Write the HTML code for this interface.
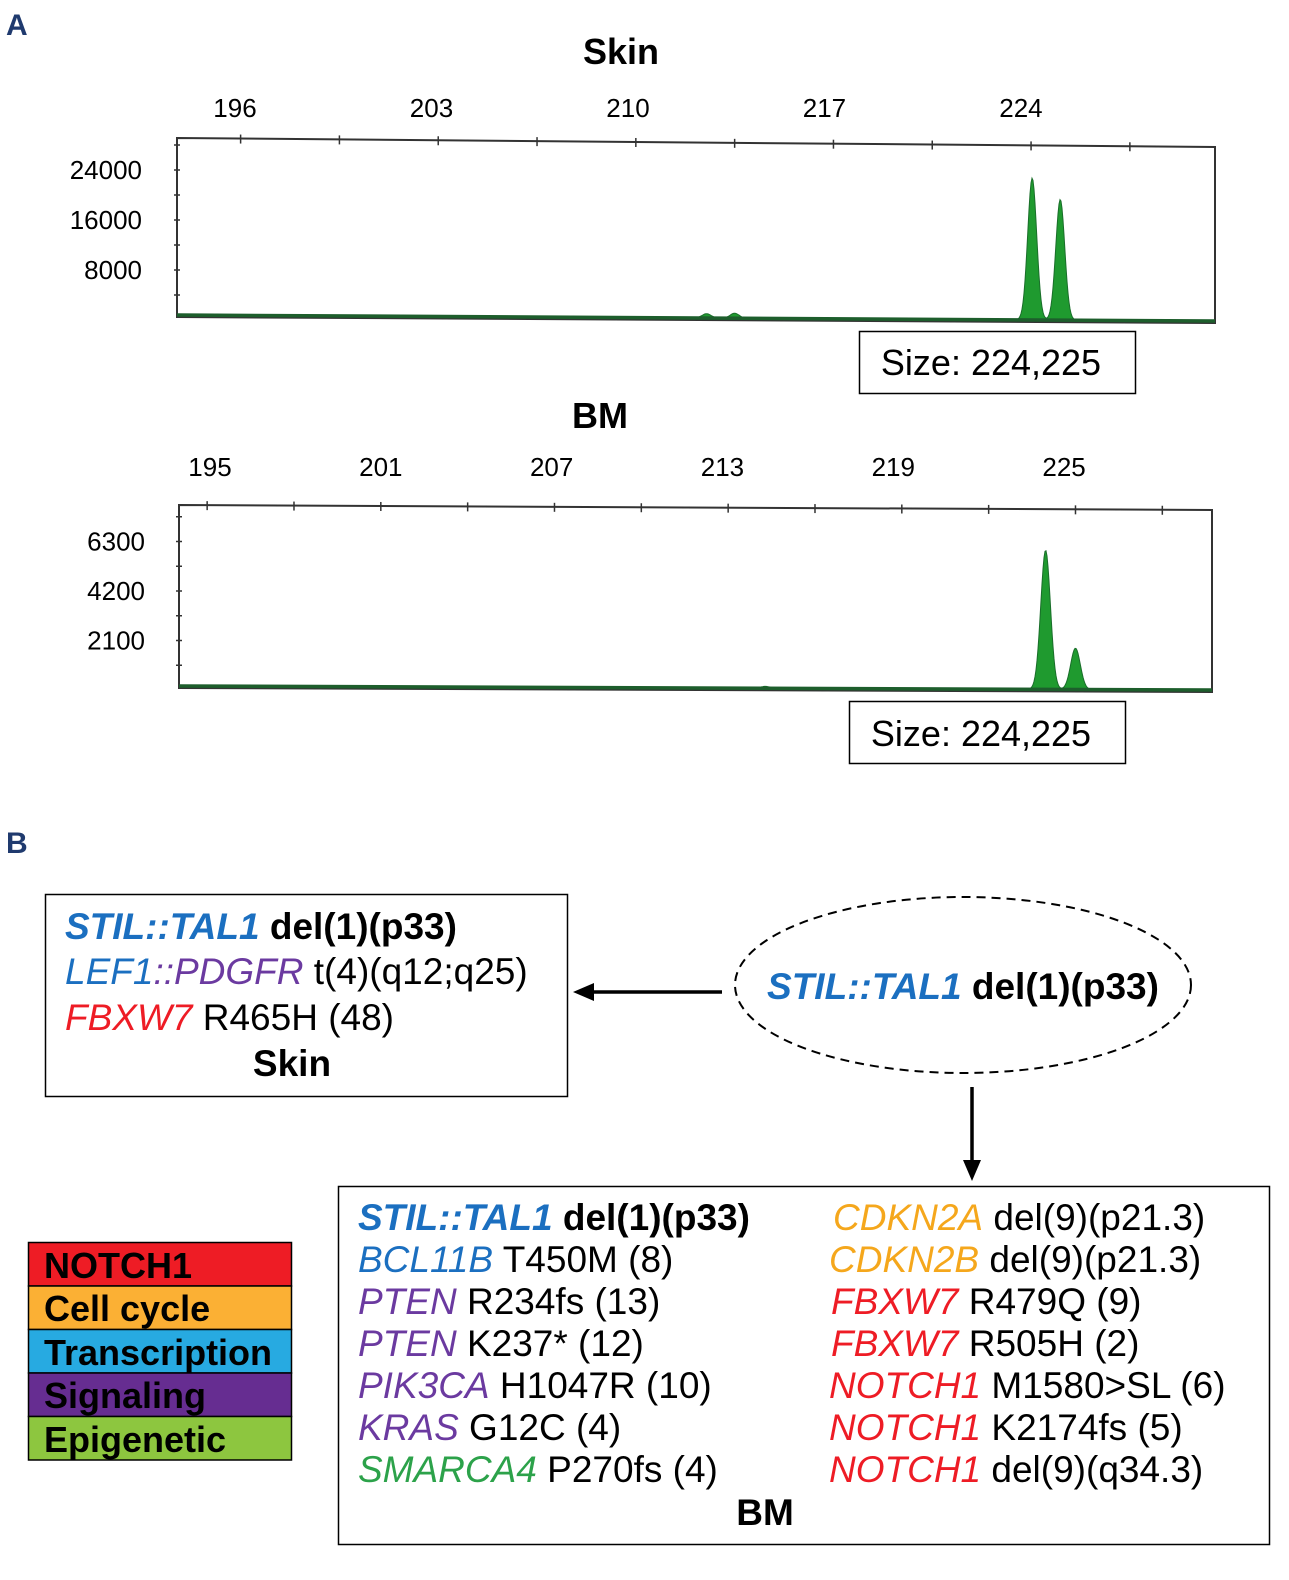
<!DOCTYPE html>
<html><head><meta charset="utf-8"><style>
html,body{margin:0;padding:0;background:#fff;}
svg{display:block;font-family:"Liberation Sans",Arial,sans-serif;}
.b{font-weight:bold}
.bl{fill:#1b6fc0;font-style:italic}
.pu{fill:#6b3aa0;font-style:italic}
.rd{fill:#ee1c25;font-style:italic}
.or{fill:#f5a71c;font-style:italic}
.gr{fill:#2ca24a;font-style:italic}
</style></head><body>
<svg id="fig" width="1289" height="1580" viewBox="0 0 1289 1580">
<text x="6" y="35" font-size="30" class="b" fill="#1f3a6e">A</text>
<text x="6" y="853" font-size="30" class="b" fill="#1f3a6e">B</text>

<g id="skin">
<text x="621" y="64" font-size="36" class="b" text-anchor="middle">Skin</text>
</g>
<g id="bm">
<text x="600" y="428" font-size="36" class="b" text-anchor="middle">BM</text>
</g>

<g>
<rect x="859.5" y="331.5" width="276" height="62" fill="#fff" stroke="#000" stroke-width="1.5"/>
<text x="991" y="375" font-size="36" text-anchor="middle">Size: 224,225</text>
</g>
<g>
<rect x="849.5" y="701.5" width="276" height="62" fill="#fff" stroke="#000" stroke-width="1.5"/>
<text x="981" y="746" font-size="36" text-anchor="middle">Size: 224,225</text>
</g>

<g>
<rect x="45.5" y="894.5" width="522" height="202" fill="none" stroke="#000" stroke-width="1.5"/>
<text x="65" y="939" font-size="37" class="b"><tspan class="bl">STIL::TAL1</tspan> del(1)(p33)</text>
<text x="65" y="984" font-size="37"><tspan class="bl">LEF1</tspan><tspan class="pu">::PDGFR</tspan> t(4)(q12;q25)</text>
<text x="65" y="1030" font-size="37"><tspan class="rd">FBXW7</tspan> R465H (48)</text>
<text x="292" y="1076" font-size="37" class="b" text-anchor="middle">Skin</text>
</g>

<g>
<ellipse cx="963" cy="985" rx="228" ry="88" fill="none" stroke="#000" stroke-width="2" stroke-dasharray="9,6"/>
<text x="963" y="999" font-size="37" class="b" text-anchor="middle"><tspan class="bl">STIL::TAL1</tspan> del(1)(p33)</text>
</g>
<g>
<line x1="722" y1="992" x2="590" y2="992" stroke="#000" stroke-width="3.5"/>
<polygon points="573,992 594,983 594,1001" fill="#000"/>
</g>
<g>
<line x1="972" y1="1087" x2="972" y2="1164" stroke="#000" stroke-width="3.5"/>
<polygon points="972,1181 963,1160 981,1160" fill="#000"/>
</g>

<g>
<rect x="338.5" y="1186.5" width="931" height="358" fill="none" stroke="#000" stroke-width="1.5"/>
<text x="358" y="1230" font-size="37" class="b"><tspan class="bl">STIL::TAL1</tspan> del(1)(p33)</text>
<text x="358" y="1272" font-size="37"><tspan class="bl">BCL11B</tspan> T450M (8)</text>
<text x="358" y="1314" font-size="37"><tspan class="pu">PTEN</tspan> R234fs (13)</text>
<text x="358" y="1356" font-size="37"><tspan class="pu">PTEN</tspan> K237* (12)</text>
<text x="358" y="1398" font-size="37"><tspan class="pu">PIK3CA</tspan> H1047R (10)</text>
<text x="358" y="1440" font-size="37"><tspan class="pu">KRAS</tspan> G12C (4)</text>
<text x="358" y="1482" font-size="37"><tspan class="gr">SMARCA4</tspan> P270fs (4)</text>
<text x="833" y="1230" font-size="37"><tspan class="or">CDKN2A</tspan> del(9)(p21.3)</text>
<text x="829" y="1272" font-size="37"><tspan class="or">CDKN2B</tspan> del(9)(p21.3)</text>
<text x="831" y="1314" font-size="37"><tspan class="rd">FBXW7</tspan> R479Q (9)</text>
<text x="831" y="1356" font-size="37"><tspan class="rd">FBXW7</tspan> R505H (2)</text>
<text x="829" y="1398" font-size="37"><tspan class="rd">NOTCH1</tspan> M1580&gt;SL (6)</text>
<text x="829" y="1440" font-size="37"><tspan class="rd">NOTCH1</tspan> K2174fs (5)</text>
<text x="829" y="1482" font-size="37"><tspan class="rd">NOTCH1</tspan> del(9)(q34.3)</text>
<text x="765" y="1525" font-size="37" class="b" text-anchor="middle">BM</text>
</g>

<g>
<g><rect x="28.5" y="1242.5" width="263" height="43.5" fill="#ee1c25" stroke="#000" stroke-width="1.5"/><text x="44" y="1278" font-size="36" class="b">NOTCH1</text></g>
<g><rect x="28.5" y="1286" width="263" height="43.5" fill="#fbb034" stroke="#000" stroke-width="1.5"/><text x="44" y="1321" font-size="36" class="b">Cell cycle</text></g>
<g><rect x="28.5" y="1329.5" width="263" height="43.5" fill="#27aae1" stroke="#000" stroke-width="1.5"/><text x="44" y="1365" font-size="36" class="b">Transcription</text></g>
<g><rect x="28.5" y="1373" width="263" height="43.5" fill="#662d91" stroke="#000" stroke-width="1.5"/><text x="44" y="1408" font-size="36" class="b">Signaling</text></g>
<g><rect x="28.5" y="1416.5" width="263" height="43.5" fill="#8dc63f" stroke="#000" stroke-width="1.5"/><text x="44" y="1452" font-size="36" class="b">Epigenetic</text></g>
</g>
</svg>
<script>
// Skin chart data
const skinXTicks = [196, 203, 210, 217, 224];
const skinYTicks = [8000, 16000, 24000];
const skinPeakPos = [212.8, 213.8, 224.4, 225.4];
const skinPeakHeight = [700, 800, 22700, 19300];
// BM chart data
const bmXTicks = [195, 201, 207, 213, 219, 225];
const bmYTicks = [2100, 4200, 6300];
const bmPeakPos = [214.5, 224.35, 225.4];
const bmPeakHeight = [80, 5900, 1750];

const NS = 'http://www.w3.org/2000/svg';
function mk(tag, attrs, parent){const e=document.createElementNS(NS,tag);for(const k in attrs)e.setAttribute(k,attrs[k]);parent.appendChild(e);return e;}

function drawChart(g, cfg){
  const xs = v => cfg.x0 + (v - cfg.v0) * cfg.kx;
  const ys = v => cfg.yBase - v * cfg.ky;
  const fr = mk('polygon',{points:`${cfg.L},${cfg.T1} ${cfg.R},${cfg.T2} ${cfg.R},${cfg.B2} ${cfg.L},${cfg.B1}`,fill:'#fff',stroke:'#333','stroke-width':2},g);
  
  
  for(let v=cfg.tickStart; xs(v)<cfg.R; v+=cfg.tickStep){
    const x=xs(v); const ty=cfg.T1+(cfg.T2-cfg.T1)*(x-cfg.L)/(cfg.R-cfg.L);
    const t=mk('line',{x1:x,y1:ty-4,x2:x,y2:ty+5,stroke:'#333','stroke-width':1.5},g);
    
    
  }
  for(let v=cfg.yMinor; ys(v)>cfg.T1+5; v+=cfg.yMinor){
    const t=mk('line',{x1:cfg.L-3,y1:ys(v),x2:cfg.L+3,y2:ys(v),stroke:'#333','stroke-width':1.5},g);
    
    
  }
  cfg.xTicks.forEach(v=>{
    const t=mk('text',{x:xs(v),y:cfg.labelY,'font-size':26,'text-anchor':'middle'},g);
    t.textContent=v;
    
    
  });
  cfg.yTicks.forEach(v=>{
    const t=mk('text',{x:cfg.yLabelX,y:ys(v)+9,'font-size':26,'text-anchor':'end'},g);
    t.textContent=v;
    
    
  });
  const base = x => cfg.B1 + (cfg.B2-cfg.B1)*(x-cfg.L)/(cfg.R-cfg.L) - 2;
  let d='';
  for(let x=cfg.L+1; x<=cfg.R-1; x+=1){
    const v=(x-cfg.x0)/cfg.kx+cfg.v0;
    let h=0;
    cfg.pos.forEach((p,i)=>{h+=cfg.hts[i]*Math.exp(-Math.pow((v-p)/cfg.sig,2)/2);});
    const y=base(x)-h*cfg.ky;
    d+=(d?'L':'M')+x.toFixed(1)+','+y.toFixed(1);
  }
  const area=mk('path',{d:d+`L${cfg.R-1},${base(cfg.R-1)}L${cfg.L+1},${base(cfg.L+1)}Z`,fill:'#1f9a2f',stroke:'#1a6e2a','stroke-width':1},g);
  
  
  const bl=mk('line',{x1:cfg.L,y1:base(cfg.L),x2:cfg.R,y2:base(cfg.R),stroke:'#1d5e2c','stroke-width':3.5},g);
  
  
}

drawChart(document.getElementById('skin'),{name:'skin',L:177,R:1215,T1:138,T2:147,B1:317,B2:323,
  x0:235,v0:196,kx:28.07,yBase:320,ky:50/8000,labelY:117,yLabelX:142,
  xTicks:skinXTicks,yTicks:skinYTicks,pos:skinPeakPos,hts:skinPeakHeight,sig:0.16,
  tickStart:196.2,tickStep:3.52,yMinor:4000});
drawChart(document.getElementById('bm'),{name:'bm',L:179,R:1212,T1:505,T2:510,B1:688,B2:692,
  x0:210,v0:195,kx:28.47,yBase:690,ky:49.5/2100,labelY:476,yLabelX:145,
  xTicks:bmXTicks,yTicks:bmYTicks,pos:bmPeakPos,hts:bmPeakHeight,sig:0.17,
  tickStart:194.9,tickStep:3.05,yMinor:1050});
</script>
</body></html>
